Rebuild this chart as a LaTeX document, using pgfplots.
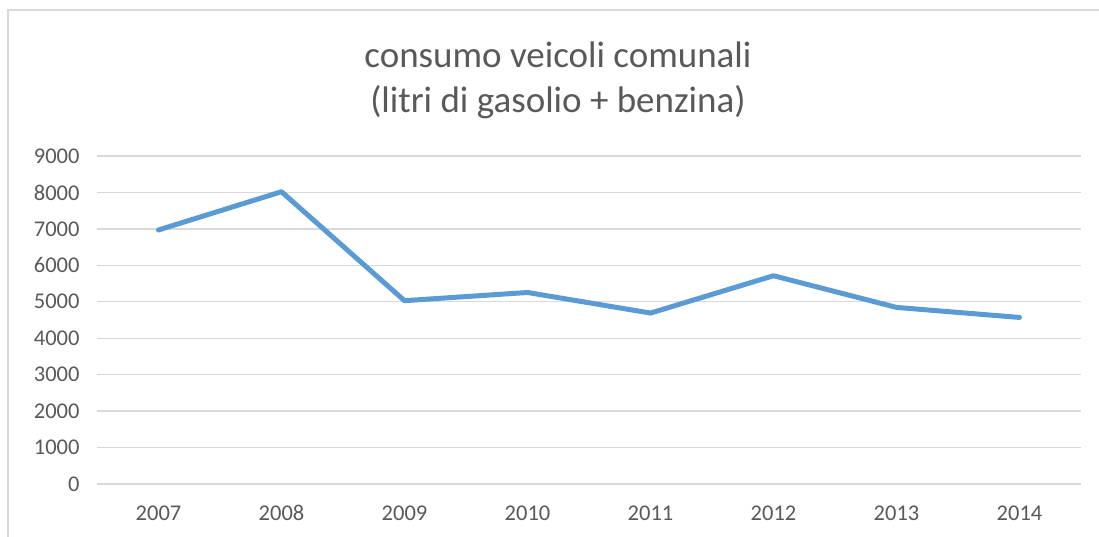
\documentclass[border=0pt]{standalone}
\usepackage{fontspec}
\setmainfont{Carlito}
\usepackage{pgfplots}
\pgfplotsset{compat=1.18}
\definecolor{tickgray}{HTML}{595959}
\definecolor{gridgray}{HTML}{D9D9D9}
\definecolor{lineblue}{HTML}{5B9BD5}
\begin{document}
\begin{tikzpicture}[x=1pt,y=1pt]
\useasboundingbox (0,0) rectangle (1099,537);
\draw[gridgray, line width=1.2pt] (8,-10) -- (8,527) -- (1120,527);
\node[text=tickgray, font=\fontsize{37}{45}\selectfont, align=center] at (558,457) {consumo veicoli comunali\\(litri di gasolio + benzina)};
\begin{axis}[
  at={(97pt,53pt)}, anchor=south west,
  scale only axis, width=984pt, height=328pt,
  xmin=-0.5, xmax=7.5, ymin=0, ymax=9000,
  xtick={0,1,2,3,4,5,6,7},
  xticklabels={2007,2008,2009,2010,2011,2012,2013,2014},
  ytick={0,1000,2000,3000,4000,5000,6000,7000,8000,9000},
  ymajorgrids, grid style={gridgray, line width=1.4pt},
  axis line style={draw=none},
  major tick length=0pt,
  tick label style={text=tickgray, font=\fontsize{22.5}{27}\selectfont},
  /pgf/number format/assume math mode=true,
  /pgf/number format/1000 sep={},
  yticklabel style={xshift=-14pt},
  xticklabel style={yshift=-18pt},
  clip=false,
]
\addplot[lineblue, line width=5pt, line cap=round, line join=round] coordinates {
  (0,6970) (1,8020) (2,5030) (3,5255) (4,4690) (5,5715) (6,4845) (7,4570)
};
\end{axis}
\end{tikzpicture}
\end{document}
